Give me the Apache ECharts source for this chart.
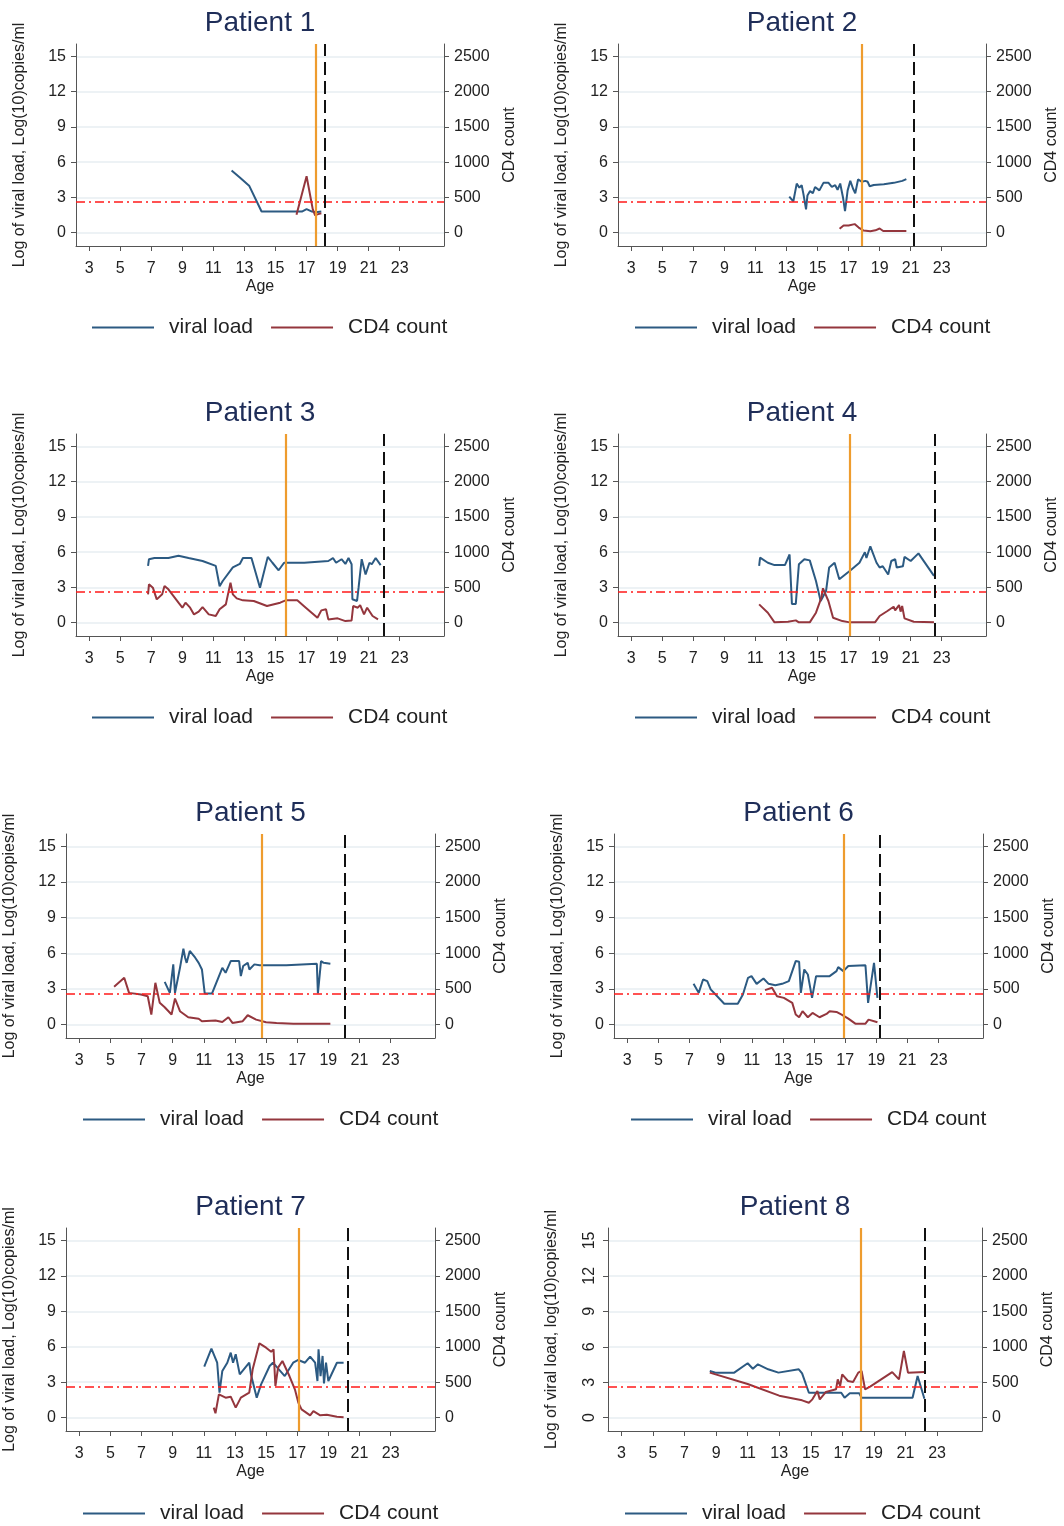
<!DOCTYPE html>
<html>
<head>
<meta charset="utf-8">
<script src="https://cdn.jsdelivr.net/npm/echarts@6/dist/echarts.min.js"></script>
<style>
  html, body { margin: 0; padding: 0; background: #fff; }
  #chart { width: 1064px; height: 1526px; }
</style>
</head>
<body>
<div id="chart"></div>
<script>
// ---- data -------------------------------------------------------------
const patientNames = ['Patient 1', 'Patient 2', 'Patient 3', 'Patient 4',
                      'Patient 5', 'Patient 6', 'Patient 7', 'Patient 8'];
const ageTicks = [3, 5, 7, 9, 11, 13, 15, 17, 19, 21, 23];
const vlTicks = [0, 3, 6, 9, 12, 15];
const cd4Ticks = [0, 500, 1000, 1500, 2000, 2500];
const vlThreshold = 2.6;
// age at transfer to adult care (orange) and age at last visit (dashed)
const transitionAge = [17.58, 17.85, 15.69, 17.07, 14.75, 16.88, 17.07, 18.16];
const lastVisitAge = [18.14, 21.18, 21.95, 22.56, 20.05, 19.22, 20.22, 22.2];

// [age, log10 viral load]
const vl1 = [[12.17,5.3],[12.7,4.7],[13.3,4.0],[14.1,1.8],[14.6,1.8],[15.2,1.8],[15.8,1.8],[16.3,1.8],[16.7,1.8],[17.0,2.0],[17.35,1.8],[17.6,1.75],[17.95,1.8]];
const vl2 = [[13.18,3.07],[13.44,2.66],[13.66,4.18],[13.83,3.83],[13.98,4.04],[14.09,3.3],[14.26,1.99],[14.35,3.16],[14.52,3.54],[14.7,3.36],[14.84,3.89],[15.12,3.6],[15.38,4.24],[15.71,4.24],[15.92,3.89],[16.14,4.04],[16.29,3.65],[16.46,4.18],[16.64,3.0],[16.77,1.84],[16.94,3.6],[17.11,4.41],[17.29,3.74],[17.43,3.36],[17.61,4.53],[17.86,4.33],[18.08,4.41],[18.23,4.33],[18.36,3.95],[18.62,4.06],[19.27,4.12],[19.91,4.24],[20.46,4.41],[20.72,4.56]];
const vl3 = [[6.79,4.83],[6.85,5.4],[7.2,5.5],[8.1,5.5],[8.75,5.7],[9.4,5.5],[10.3,5.25],[11.15,4.83],[11.4,3.1],[11.6,3.55],[12.25,4.7],[12.7,5.0],[12.9,5.5],[13.45,5.5],[14.0,2.98],[14.5,5.6],[14.8,5.1],[15.2,4.46],[15.55,5.1],[16.85,5.1],[18.4,5.25],[18.7,5.5],[18.9,5.1],[19.25,5.4],[19.5,5.0],[19.7,5.5],[19.9,4.97],[19.95,2.0],[20.25,1.85],[20.35,3.0],[20.55,5.4],[20.8,4.1],[21.05,5.1],[21.2,4.97],[21.45,5.5],[21.77,4.9]];
const vl4 = [[11.24,4.83],[11.3,5.54],[11.8,5.1],[12.23,4.9],[12.9,4.9],[13.2,5.8],[13.35,1.6],[13.6,1.6],[13.8,4.97],[14.15,5.4],[14.5,5.3],[14.9,3.55],[15.2,1.85],[15.55,2.7],[15.75,4.7],[16.1,5.1],[16.4,3.7],[17.07,4.4],[17.7,5.1],[18.05,6.0],[18.15,5.5],[18.4,6.5],[18.8,5.1],[19.0,4.7],[19.2,4.8],[19.55,4.1],[19.75,5.25],[20.0,5.4],[20.1,4.7],[20.5,4.8],[20.6,5.6],[21.0,5.25],[21.5,5.9],[22.5,3.98]];
const vl5 = [[8.49,3.6],[8.82,2.67],[9.04,5.07],[9.15,2.67],[9.47,4.78],[9.69,6.4],[9.8,5.63],[9.9,5.2],[10.1,6.2],[10.45,5.63],[10.67,5.2],[10.88,4.64],[11.06,2.62],[11.53,2.62],[12.19,4.78],[12.4,4.36],[12.73,5.35],[13.27,5.35],[13.38,4.08],[13.53,4.93],[13.82,5.2],[13.93,4.64],[14.25,5.07],[14.58,5.0],[16.3,5.0],[18.26,5.12],[18.33,2.62],[18.44,2.62],[18.53,5.35],[18.7,5.2],[19.13,5.12]];
const vl6 = [[7.26,3.43],[7.59,2.67],[7.87,3.8],[8.14,3.66],[8.36,2.96],[9.23,1.75],[10.1,1.75],[10.43,2.53],[10.76,3.94],[10.98,4.08],[11.31,3.43],[11.75,3.88],[12.08,3.43],[12.51,3.32],[12.95,3.43],[13.38,3.66],[13.82,5.35],[14.04,5.29],[14.15,2.67],[14.37,4.64],[14.6,4.22],[14.87,2.25],[15.13,4.08],[16.0,4.08],[16.44,4.5],[16.55,4.84],[16.88,4.5],[17.2,4.93],[18.3,5.0],[18.47,1.83],[18.58,1.83],[18.85,5.2],[19.07,2.25]];
const vl7 = [[11.03,4.31],[11.49,5.84],[11.86,4.65],[12.01,2.11],[12.19,3.95],[12.51,4.65],[12.73,5.5],[12.88,4.65],[13.05,5.36],[13.31,3.66],[13.92,4.65],[14.03,3.66],[14.4,1.69],[14.68,2.82],[15.23,4.37],[15.44,4.65],[16.2,3.52],[16.74,4.65],[17.07,4.88],[17.5,4.65],[17.83,5.16],[18.15,4.65],[18.3,3.1],[18.37,5.78],[18.5,3.52],[18.63,5.22],[18.72,2.9],[18.85,4.65],[19.0,3.1],[19.55,4.65],[19.98,4.65]];
const vl8 = [[8.6,3.95],[8.96,3.81],[10.15,3.81],[11.0,4.6],[11.33,4.14],[11.65,4.51],[12.3,4.09],[12.95,3.81],[14.24,4.09],[14.45,3.75],[14.88,2.11],[16.18,2.11],[16.93,2.11],[17.14,1.69],[17.47,2.06],[18.07,2.06],[18.22,1.69],[21.45,1.69],[21.77,3.52],[22.2,1.6]];

// [age, CD4 count]
const cd41 = [[16.35,255],[17.0,800],[17.4,330],[17.55,245],[17.7,260],[17.95,275]];
const cd42 = [[16.42,55],[16.68,102],[17.0,102],[17.39,122],[17.65,73],[17.97,30],[18.4,22],[18.73,34],[19.0,60],[19.23,25],[19.91,25],[20.72,25]];
const cd43 = [[6.79,402],[6.85,545],[7.1,497],[7.35,331],[7.7,402],[7.85,520],[8.1,473],[8.75,284],[9.0,213],[9.2,284],[9.5,213],[9.75,118],[10.05,156],[10.3,222],[10.7,118],[11.15,95],[11.4,190],[11.8,260],[12.1,568],[12.25,402],[12.5,345],[12.9,317],[13.6,308],[14.45,237],[15.3,284],[15.65,317],[16.4,317],[16.95,213],[17.7,71],[17.95,175],[18.25,190],[18.4,47],[19.0,62],[19.5,23],[19.9,33],[20.0,237],[20.3,213],[20.45,250],[20.7,118],[20.9,213],[21.25,95],[21.6,47]];
const cd44 = [[11.24,260],[11.8,142],[12.23,5],[13.1,13],[13.6,33],[13.8,5],[14.5,5],[14.9,142],[15.25,355],[15.35,488],[15.7,308],[16.0,71],[16.6,23],[17.07,5],[18.7,5],[19.0,95],[19.5,166],[19.9,227],[20.0,175],[20.25,250],[20.35,157],[20.45,237],[20.6,62],[21.2,13],[22.5,5]];
const cd45 = [[5.24,530],[5.89,657],[6.2,445],[6.97,422],[7.4,398],[7.63,141],[7.89,586],[8.17,305],[8.49,244],[8.93,141],[9.15,366],[9.47,188],[10.0,103],[10.67,83],[10.88,47],[11.75,57],[12.19,37],[12.58,103],[12.84,23],[13.5,47],[13.82,131],[14.36,70],[15.0,33],[15.67,23],[16.75,10],[19.13,10]];
const cd46 = [[11.85,483],[12.3,516],[12.62,399],[13.06,375],[13.6,305],[13.82,141],[14.04,103],[14.26,188],[14.6,103],[14.9,163],[15.35,103],[15.8,150],[16.0,188],[16.44,178],[16.77,141],[17.2,83],[17.65,13],[18.3,13],[18.5,70],[19.07,33]];
const cd47 = [[11.64,141],[11.75,61],[11.97,329],[12.4,282],[12.73,296],[13.05,141],[13.38,282],[13.92,352],[14.14,681],[14.57,1048],[15.0,987],[15.33,930],[15.48,963],[15.6,446],[15.77,705],[16.05,799],[16.5,587],[16.85,400],[17.07,212],[17.28,117],[17.83,33],[18.04,93],[18.48,33],[18.9,42],[19.55,13],[19.98,5]];
const cd48 = [[8.6,635],[11.0,475],[13.0,310],[14.45,244],[14.88,211],[15.1,258],[15.42,377],[15.57,258],[15.96,362],[16.6,400],[16.71,540],[16.86,447],[16.99,611],[17.36,517],[17.68,503],[18.01,635],[18.22,658],[18.44,400],[18.76,437],[20.16,643],[20.59,540],[20.9,940],[21.16,635],[22.2,643]];

const viralLoad = [vl1, vl2, vl3, vl4, vl5, vl6, vl7, vl8];
const cd4Count = [cd41, cd42, cd43, cd44, cd45, cd46, cd47, cd48];

// ---- layout -----------------------------------------------------------
const FONT = '"Liberation Sans", Arial, sans-serif';
const TXT = '#222';
const AXIS = '#555';
const VL_MIN = -1.13, VL_MAX = 16.05;
const CD4_PER_LOG = 2500 / 15;           // both axes share gridlines
const AGE_MIN = 2.15, AGE_MAX = 25.85;

// plot rectangles [left, top, width, height]
const panels = [
  [76, 44, 368, 202],  [618, 44, 368, 202],
  [76, 434, 368, 202], [618, 434, 368, 202],
  [66, 834, 369, 204], [614, 834, 369, 204],
  [66, 1228, 369, 203], [608, 1228, 374, 203]
];
const legendPos = [[92, 317], [635, 317], [92, 707], [635, 707],
                   [83, 1109], [631, 1109], [83, 1503], [625, 1503]];

const plain = v => String(v);
const grids = [], xAxes = [], yAxes = [], series = [], legends = [], graphics = [];

panels.forEach(([l, t, w, h], i) => {
  grids.push({ left: l, top: t, width: w, height: h, containLabel: false });

  xAxes.push({
    gridIndex: i, type: 'value', min: AGE_MIN, max: AGE_MAX,
    name: 'Age', nameLocation: 'middle', nameGap: 33,
    nameTextStyle: { fontFamily: FONT, fontSize: 16, color: TXT },
    axisLine: { show: true, onZero: false, lineStyle: { color: AXIS, width: 1 } },
    axisTick: { show: true, length: 5, customValues: ageTicks, lineStyle: { color: AXIS } },
    axisLabel: { customValues: ageTicks, margin: 15, formatter: plain,
                 fontFamily: FONT, fontSize: 16, color: TXT },
    splitLine: { show: false }
  });

  const rotated = i === 7;
  yAxes.push({
    gridIndex: i, type: 'value', position: 'left', min: VL_MIN, max: VL_MAX,
    name: rotated ? 'Log of viral load, log(10)copies/ml' : 'Log of viral load, Log(10)copies/ml',
    nameLocation: 'middle', nameRotate: 90, nameGap: 48,
    nameTextStyle: { fontFamily: FONT, fontSize: 16, color: TXT },
    axisLine: { show: true, onZero: false, lineStyle: { color: AXIS, width: 1 } },
    axisTick: { show: true, length: 5, customValues: vlTicks, lineStyle: { color: AXIS } },
    axisLabel: { customValues: vlTicks, margin: 10, rotate: rotated ? 90 : 0, formatter: plain,
                 fontFamily: FONT, fontSize: 16, color: TXT },
    splitLine: { show: true, lineStyle: { color: '#e7eef2', width: 1.5 } }
  });
  yAxes.push({
    gridIndex: i, type: 'value', position: 'right',
    min: VL_MIN * CD4_PER_LOG, max: VL_MAX * CD4_PER_LOG,
    name: 'CD4 count', nameLocation: 'middle', nameRotate: 90, nameGap: 58,
    nameTextStyle: { fontFamily: FONT, fontSize: 16, color: TXT },
    axisLine: { show: true, onZero: false, lineStyle: { color: AXIS, width: 1 } },
    axisTick: { show: true, length: 5, customValues: cd4Ticks, lineStyle: { color: AXIS } },
    axisLabel: { customValues: cd4Ticks, margin: 10, formatter: plain,
                 fontFamily: FONT, fontSize: 16, color: TXT },
    splitLine: { show: false }
  });

  series.push({
    name: 'viral load', type: 'line', xAxisIndex: i, yAxisIndex: 2 * i,
    data: viralLoad[i], showSymbol: false, symbol: 'none',
    lineStyle: { color: '#2c5a82', width: 2 }, itemStyle: { color: '#2c5a82' },
    z: 3, animation: false,
    markLine: {
      silent: true, symbol: ['none', 'none'], label: { show: false }, animation: false,
      data: [
        { yAxis: vlThreshold, lineStyle: { color: '#ff1a1a', width: 1.5, type: [9, 4, 2, 4] } },
        { xAxis: transitionAge[i], lineStyle: { color: '#ee9c2e', width: 2.2, type: 'solid' } },
        { xAxis: lastVisitAge[i], lineStyle: { color: '#111', width: 2, type: [13, 6] } }
      ]
    }
  });
  series.push({
    name: 'CD4 count', type: 'line', xAxisIndex: i, yAxisIndex: 2 * i + 1,
    data: cd4Count[i], showSymbol: false, symbol: 'none',
    lineStyle: { color: '#94363d', width: 2 }, itemStyle: { color: '#94363d' },
    z: 3, animation: false
  });

  legends.push({
    data: ['viral load', 'CD4 count'], left: legendPos[i][0], top: legendPos[i][1],
    orient: 'horizontal', icon: 'rect', itemWidth: 62, itemHeight: 2, itemGap: 18,
    padding: 0, selectedMode: false,
    textStyle: { fontFamily: FONT, fontSize: 21, color: TXT, padding: [0, 0, 0, 10] }
  });

  graphics.push({
    type: 'text', x: l + w / 2, y: t - 21, silent: true,
    style: { text: patientNames[i], font: '28px ' + FONT, fill: '#1e2d58',
             align: 'center', verticalAlign: 'middle' }
  });
});

const chart = echarts.init(document.getElementById('chart'), null, { renderer: 'canvas' });
chart.setOption({
  backgroundColor: '#fff',
  animation: false,
  grid: grids,
  xAxis: xAxes,
  yAxis: yAxes,
  legend: legends,
  series: series,
  graphic: graphics
});
</script>
</body>
</html>
